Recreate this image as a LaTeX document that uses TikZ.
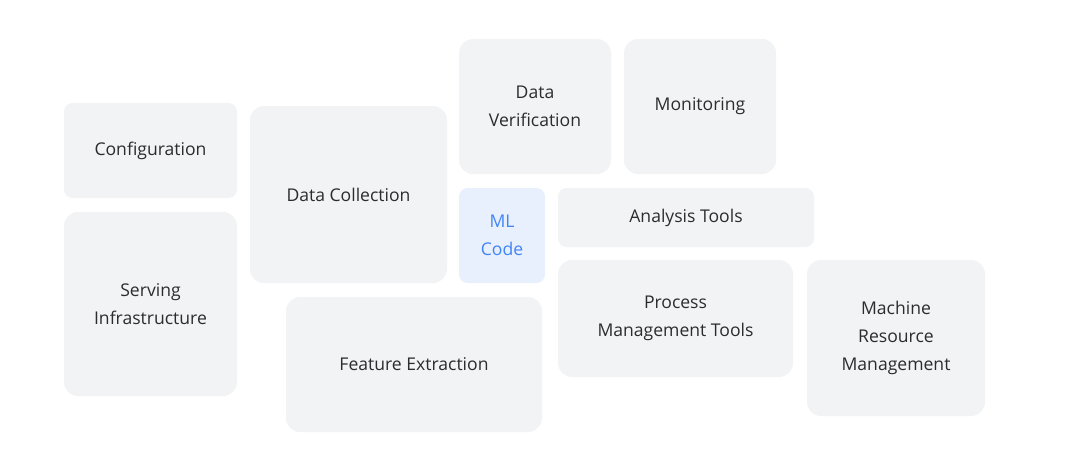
\documentclass[tikz,border=0pt]{standalone}
\usepackage{fontspec}
\setmainfont{Open Sans}
\usepackage{tikz}
\usetikzlibrary{positioning}
\definecolor{Tile}{HTML}{F1F3F4}
\definecolor{TileText}{HTML}{2A2C2F}
\definecolor{CodeFill}{HTML}{E8F0FE}
\definecolor{CodeText}{HTML}{4285F4}

\tikzset{
  tile/.style={fill=Tile, rounded corners=0.28cm, align=center, inner sep=0pt,
               font=\fontsize{10}{16}\selectfont\color{TileText}},
  smalltile/.style={tile, rounded corners=0.17cm},
  codetile/.style={smalltile, fill=CodeFill, font=\fontsize{10}{16}\selectfont\color{CodeText}}
}

\begin{document}
\begin{tikzpicture}
  \useasboundingbox (0,0) rectangle (21.6,-9.26);
  % left column
  \node[smalltile, minimum width=3.46cm, minimum height=1.90cm] (conf) at (3.01,-3.01) {Configuration};
  \node[tile, minimum width=3.46cm, minimum height=3.68cm] (serv) at (3.01,-6.08) {Serving\\Infrastructure};
  % data blocks
  \node[tile, minimum width=3.94cm, minimum height=3.54cm] (dcol) at (6.97,-3.89) {Data Collection};
  \node[tile, minimum width=5.12cm, minimum height=2.70cm] (feat) at (8.28,-7.29) {Feature Extraction};
  \node[tile, minimum width=3.04cm, minimum height=2.70cm] (dver) at (10.70,-2.13) {Data\\Verification};
  \node[tile, minimum width=3.04cm, minimum height=2.70cm] (mon) at (14.00,-2.13) {Monitoring};
  % the small box in the middle
  \node[codetile, minimum width=1.72cm, minimum height=1.90cm] (mlcode) at (10.04,-4.71) {ML\\Code};
  % tools and resources
  \node[smalltile, minimum width=5.12cm, minimum height=1.18cm] (ana) at (13.72,-4.35) {Analysis Tools};
  \node[tile, minimum width=4.70cm, minimum height=2.34cm] (proc) at (13.51,-6.37) {Process\\Management Tools};
  \node[tile, minimum width=3.56cm, minimum height=3.12cm] (mach) at (17.92,-6.76) {Machine\\Resource\\Management};
\end{tikzpicture}
\end{document}
